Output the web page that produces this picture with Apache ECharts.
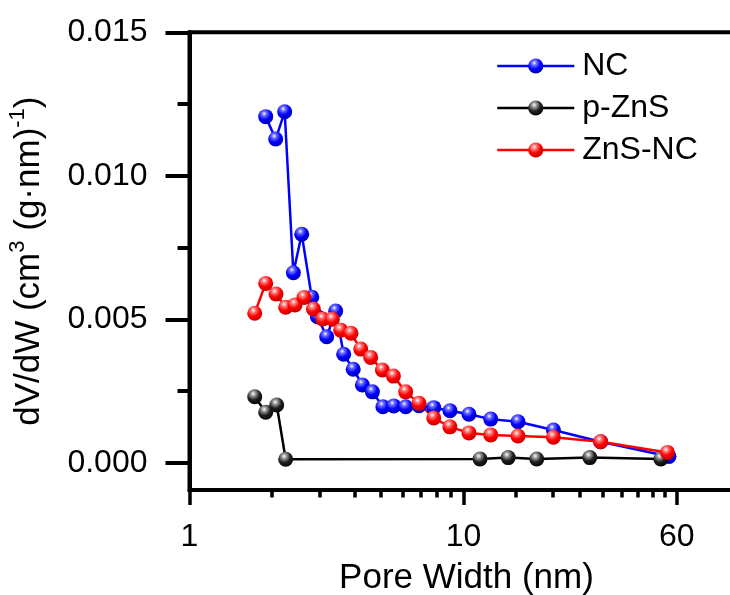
<!DOCTYPE html>
<html><head><meta charset="utf-8">
<script src="https://cdn.jsdelivr.net/npm/echarts@6/dist/echarts.min.js"></script>
<style>html,body{margin:0;padding:0;background:#fff}#c{width:730px;height:595px}</style>
</head><body><div id="c"></div>
<script>
// ---- data ----
const ncX = [1.897, 2.063, 2.225, 2.394, 2.568, 2.793, 2.930, 3.168, 3.417, 3.654, 3.958, 4.276, 4.651, 5.08, 5.564, 6.152, 6.88, 7.786, 8.926, 10.47, 12.57, 15.81, 21.29, 31.67, 56.23];
const ncY = [0.01206, 0.01128, 0.01223, 0.00662, 0.00796, 0.00577, 0.00509, 0.00439, 0.00529, 0.00378, 0.00326, 0.00271, 0.00247, 0.00195, 0.00198, 0.00195, 0.00199, 0.00192, 0.00181, 0.00169, 0.00152, 0.00143, 0.00114, 0.00073, 0.00022];

const pznsX = [1.73, 1.897, 2.081, 2.244, 11.49, 14.56, 18.5, 28.9, 52.5];
const pznsY = [0.0023, 0.00176, 0.00201, 0.00012, 0.00013, 0.00018, 0.00013, 0.00018, 0.00013];

const znsncX = [1.73, 1.897, 2.069, 2.244, 2.427, 2.617, 2.833, 3.063, 3.323, 3.563, 3.886, 4.216, 4.585, 5.058, 5.549, 6.152, 6.88, 7.786, 8.92, 10.47, 12.57, 15.81, 21.29, 31.67, 55.5];
const znsncY = [0.00521, 0.00625, 0.00588, 0.00542, 0.0055, 0.00576, 0.00536, 0.00501, 0.005, 0.00462, 0.00451, 0.00396, 0.00367, 0.00323, 0.00302, 0.00247, 0.00207, 0.00156, 0.00125, 0.00104, 0.00097, 0.00093, 0.00089, 0.00073, 0.00036];

const xMajorTicks = [1, 10, 60];
const xMinorTicks = [2, 3, 4, 5, 6, 7, 8, 9, 15.56, 21.11, 26.67, 32.22, 37.78, 43.33, 48.89, 54.44];
const yMajorTicks = [0, 0.005, 0.010, 0.015];
const yMinorTicks = [0.0025, 0.0075, 0.0125];

const seriesNames = ['NC', 'p-ZnS', 'ZnS-NC'];

// ---- styling ----
const FONT = 'Liberation Sans, Arial, sans-serif';
function ball(c0, c1, c2) {
  return {type: 'radial', x: 0.4, y: 0.3, r: 0.75, colorStops: [
    {offset: 0, color: '#ffffff'}, {offset: 0.2, color: c0},
    {offset: 0.55, color: c1}, {offset: 1, color: c2}]};
}
function pairs(xs, ys) { return xs.map((x, i) => [x, ys[i]]); }
function mkSeries(name, xs, ys, col, grad) {
  return {
    name: name, type: 'line', xAxisIndex: 0, yAxisIndex: 0,
    data: pairs(xs, ys), symbol: 'circle', symbolSize: 15,
    lineStyle: {color: col, width: 2.5},
    itemStyle: {color: grad},
    emphasis: {disabled: true}
  };
}

const chart = echarts.init(document.getElementById('c'), null, {renderer: 'canvas'});
const xCommon = {type: 'log', logBase: 10, min: 1, max: 100, gridIndex: 0, splitLine: {show: false}, minorTick: {show: false}};
const yCommon = {type: 'value', min: -0.00095, max: 0.015, gridIndex: 0, splitLine: {show: false}, minorTick: {show: false}};

chart.setOption({
  animation: false,
  backgroundColor: '#ffffff',
  grid: {left: 189.5, top: 32.3, width: 548, bottom: 105, show: true, borderColor: '#000', borderWidth: 4, backgroundColor: 'transparent', containLabel: false, outerBoundsMode: 'none'},
  legend: {
    data: seriesNames, orient: 'vertical', left: 491, top: 45, itemWidth: 77, itemHeight: 19, itemGap: 10,
    lineStyle: {width: 2.5},
    textStyle: {fontFamily: FONT, fontSize: 32, color: '#000', lineHeight: 32, padding: [0, 0, 0, 3]}
  },
  xAxis: [
    Object.assign({}, xCommon, {
      position: 'bottom',
      name: 'Pore Width (nm)', nameLocation: 'middle', nameGap: 71,
      nameTextStyle: {fontFamily: FONT, fontSize: 35, color: '#000', padding: [0, 0, 0, 6]},
      axisLine: {show: true, onZero: false, lineStyle: {color: '#000', width: 4}},
      axisTick: {show: true, inside: false, length: 15, lineStyle: {color: '#000', width: 3.5}, customValues: xMajorTicks},
      axisLabel: {show: true, margin: 31, fontFamily: FONT, fontSize: 32, color: '#000', customValues: xMajorTicks, formatter: v => String(Math.round(v))}
    }),
    Object.assign({}, xCommon, {
      position: 'bottom',
      axisLine: {show: false, onZero: false},
      axisTick: {show: true, inside: false, length: 7.5, lineStyle: {color: '#000', width: 3.5}, customValues: xMinorTicks},
      axisLabel: {show: false}
    })
  ],
  yAxis: [
    Object.assign({}, yCommon, {
      position: 'left',
      name: '{n|dV/dW (cm}{s|3}{n| (g·nm)}{s|-1}{n|)}', nameLocation: 'middle', nameRotate: 90, nameGap: 143,
      nameTextStyle: {fontFamily: FONT, fontSize: 35, color: '#000', rich: {
        n: {fontFamily: FONT, fontSize: 35, color: '#000', lineHeight: 40, verticalAlign: 'bottom'},
        s: {fontFamily: FONT, fontSize: 22, color: '#000', lineHeight: 40, verticalAlign: 'top'}
      }},
      axisLine: {show: true, onZero: false, lineStyle: {color: '#000', width: 4}},
      axisTick: {show: true, inside: false, length: 24, lineStyle: {color: '#000', width: 4}, customValues: yMajorTicks},
      axisLabel: {show: true, margin: 42, fontFamily: FONT, fontSize: 32, color: '#000', customValues: yMajorTicks, formatter: v => v.toFixed(3)}
    }),
    Object.assign({}, yCommon, {
      position: 'left',
      axisLine: {show: false, onZero: false},
      axisTick: {show: true, inside: false, length: 12, lineStyle: {color: '#000', width: 4}, customValues: yMinorTicks},
      axisLabel: {show: false}
    })
  ],
  series: [
    mkSeries('NC', ncX, ncY, '#0000ff', ball('#7070ff', '#0000ff', '#0000a8')),
    mkSeries('p-ZnS', pznsX, pznsY, '#000000', ball('#a0a0a0', '#202020', '#000000')),
    mkSeries('ZnS-NC', znsncX, znsncY, '#ff0000', ball('#ff8080', '#ff0000', '#c00000'))
  ]
});
</script></body></html>
